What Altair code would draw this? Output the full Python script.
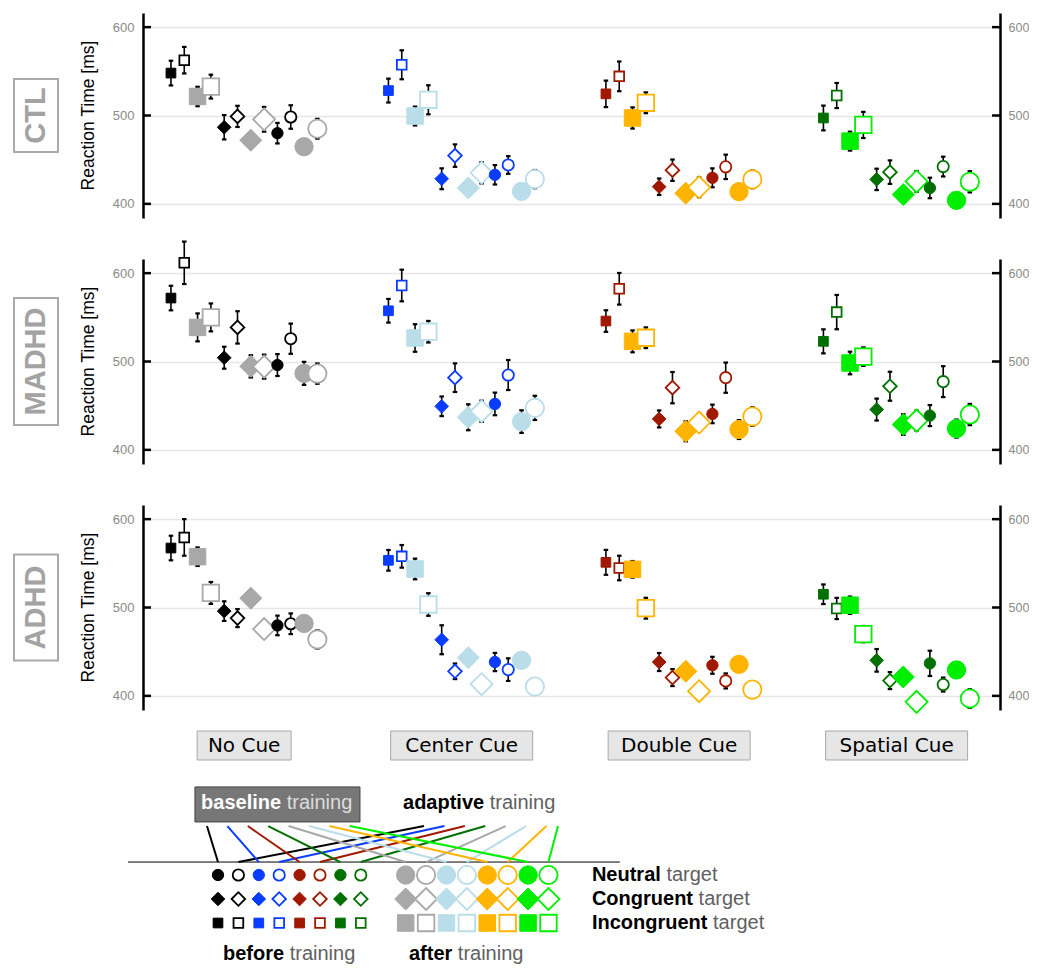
import altair as alt
import pandas as pd

# ---------------- data ----------------
GROUPS = ["CTL", "MADHD", "ADHD"]
CUES = ["No Cue", "Center Cue", "Double Cue", "Spatial Cue"]
TARGETS = ["Incongruent", "Congruent", "Neutral"]
# within each target: before/baseline, before/adaptive, after/baseline, after/adaptive
CONDITIONS = ["before-baseline", "before-adaptive", "after-baseline", "after-adaptive"]

# mean reaction time (ms); 12 values = 3 targets x 4 conditions
CTL_NO = [548, 562.6, 521.5, 532.7, 486.7, 499, 472, 495.7, 480, 498.3, 464.7, 485]
CTL_CENTER = [528.2, 557.4, 499.4, 517.8, 428.4, 454.6, 418, 435.1, 432.9, 444, 414.2, 428]
CTL_DOUBLE = [524.5, 544.3, 497.2, 514.4, 419.4, 438.1, 412, 418.7, 429.5, 441.9, 413.8, 427.7]
CTL_SPATIAL = [497.2, 522.6, 471, 489.3, 427.7, 435.9, 410.5, 425.4, 418, 442.2, 404, 425]
MADHD_NO = [571.8, 611.7, 538.6, 549.9, 504.3, 538.6, 494.5, 494.2, 496, 525.8, 486.6, 486.3]
MADHD_CENTER = [557.4, 586, 526.6, 533.7, 449.3, 481.7, 436.9, 443.7, 452, 484.7, 432, 447.5]
MADHD_DOUBLE = [545.8, 582.3, 522.8, 526.9, 435, 470.4, 421, 430.9, 440.7, 481.7, 423, 437.7]
MADHD_SPATIAL = [522.8, 555.9, 498.3, 505.5, 445.6, 472, 428.6, 433.1, 438.8, 477.2, 424.1, 440]
ADHD_NO = [567.3, 579.3, 557.5, 516.5, 495.9, 488, 510.5, 475.6, 479.7, 481.6, 482, 463.9]
ADHD_CENTER = [553.4, 557.9, 543.6, 503.4, 463.5, 427.8, 443.2, 413.2, 438.3, 429.7, 440.2, 410.5]
ADHD_DOUBLE = [551.1, 544.7, 543.2, 499.2, 438.3, 420.7, 427.8, 405.3, 434.6, 416.9, 435.7, 407.1]
ADHD_SPATIAL = [515, 498.9, 502.6, 469.9, 440.2, 417.3, 421.4, 393.2, 436.8, 412.8, 429.3, 397]

# error bar half-lengths (ms)
CTL_NO_ERR = [14, 15, 11, 13.5, 13.8, 12, 8, 14, 11.6, 13.3, 8, 11.2]
CTL_CENTER_ERR = [13.5, 16.4, 10.7, 16.4, 11.8, 12.7, 8, 12, 11, 10, 8, 10.3]
CTL_DOUBLE_ERR = [15, 16.8, 12, 11.8, 9.3, 12.1, 8, 11.2, 10.7, 13.8, 8, 10]
CTL_SPATIAL_ERR = [14, 14.2, 10.7, 14.8, 12.1, 13.3, 8, 11.6, 11.6, 11.2, 8, 12]
MADHD_NO_ERR = [13.9, 24, 15.8, 15.8, 12.4, 18.3, 12.6, 13.6, 12.4, 17.1, 13, 11.5]
MADHD_CENTER_ERR = [13.4, 17.9, 15.6, 12.2, 11.1, 16.2, 14.7, 12, 12.8, 17, 12.8, 13.7]
MADHD_DOUBLE_ERR = [12.2, 17.9, 12.4, 11.7, 9.6, 17.7, 11.3, 10, 10.5, 17.1, 10.7, 10.5]
MADHD_SPATIAL_ERR = [13.6, 19.4, 12.8, 10.5, 12.4, 16.4, 11.7, 11.3, 11.9, 17.5, 10.2, 12]
ADHD_NO_ERR = [13.9, 20.7, 10.5, 12.4, 11.1, 10.2, 8, 8, 11.1, 11.7, 8, 10.3]
ADHD_CENTER_ERR = [11.7, 12.8, 11.7, 12.8, 16.4, 8.8, 8, 8, 10.3, 12.8, 8, 9]
ADHD_DOUBLE_ERR = [14.1, 13.9, 9.4, 11.8, 10.2, 9.6, 8, 8, 9.6, 8.5, 8, 8]
ADHD_SPATIAL_ERR = [11.1, 12, 9.8, 9.2, 12.8, 9.6, 8, 8, 14.3, 7.9, 8, 10.5]

RT = {"CTL": [CTL_NO, CTL_CENTER, CTL_DOUBLE, CTL_SPATIAL],
      "MADHD": [MADHD_NO, MADHD_CENTER, MADHD_DOUBLE, MADHD_SPATIAL],
      "ADHD": [ADHD_NO, ADHD_CENTER, ADHD_DOUBLE, ADHD_SPATIAL]}
ERR = {"CTL": [CTL_NO_ERR, CTL_CENTER_ERR, CTL_DOUBLE_ERR, CTL_SPATIAL_ERR],
       "MADHD": [MADHD_NO_ERR, MADHD_CENTER_ERR, MADHD_DOUBLE_ERR, MADHD_SPATIAL_ERR],
       "ADHD": [ADHD_NO_ERR, ADHD_CENTER_ERR, ADHD_DOUBLE_ERR, ADHD_SPATIAL_ERR]}

Y_TICKS = [400, 500, 600]

# ---------------- style ----------------
BEFORE_COLORS = ["#000000", "#0a3cff", "#a01800", "#007000"]
AFTER_COLORS = ["#a8a8a8", "#b9dde9", "#ffb400", "#00ee00"]
SHAPE = {"Incongruent": "square", "Congruent": "diamond", "Neutral": "circle"}
SIZE_SMALL = {"square": 94, "diamond": 185, "circle": 128}
SIZE_BIG = {"square": 272, "diamond": 484, "circle": 335}
ROW_BOX_H = {"CTL": 73, "MADHD": 127, "ADHD": 106}
CUE_BOX_W = [94, 142, 142, 142]

W, H = 857, 205
PX = 13.31                  # pixels per slot
GROUP_STEP = 16.34          # slots between cue groups
XDOM = [-2.1, -2.1 + W / PX]
YDOM = [384, 616]
CAP = 0.17


def marker_style(cue_i, target, cond_i):
    before = cond_i < 2
    col = BEFORE_COLORS[cue_i] if before else AFTER_COLORS[cue_i]
    shp = SHAPE[target]
    size = (SIZE_SMALL if before else SIZE_BIG)[shp]
    filled = cond_i % 2 == 0
    return dict(shape=shp, size=size, fill=col if filled else "#ffffff",
                stroke=col, sw=1.0 if filled else 1.8)


rows = []
for g in GROUPS:
    for ci, cue in enumerate(CUES):
        for ti, tgt in enumerate(TARGETS):
            for k, cond in enumerate(CONDITIONS):
                i = ti * 4 + k
                pos = ci * GROUP_STEP + i
                v = RT[g][ci][i]
                e = ERR[g][ci][i]
                r = dict(group=g, cue=cue, target=tgt, cond=cond, pos=pos, rt=v,
                         lo=v - e, hi=v + e, capL=pos - CAP, capR=pos + CAP)
                r.update(marker_style(ci, tgt, k))
                rows.append(r)
df = pd.DataFrame(rows)

XS = alt.Scale(domain=XDOM, nice=False, zero=False)
YS = alt.Scale(domain=YDOM, nice=False, zero=False)


def panel(gname, with_cues):
    d = df[df.group == gname]
    base = alt.Chart(d)
    bars = base.mark_rule(color="black", strokeWidth=1.6).encode(
        x=alt.X("pos:Q", scale=XS, axis=None),
        y=alt.Y("lo:Q", scale=YS, axis=None), y2="hi:Q")
    cap_lo = base.mark_rule(color="black", strokeWidth=2.2).encode(
        x=alt.X("capL:Q", scale=XS, axis=None), x2="capR:Q",
        y=alt.Y("lo:Q", scale=YS, axis=None))
    cap_hi = base.mark_rule(color="black", strokeWidth=2.2).encode(
        x=alt.X("capL:Q", scale=XS, axis=None), x2="capR:Q",
        y=alt.Y("hi:Q", scale=YS, axis=None))
    left_axis = alt.Axis(orient="left", values=Y_TICKS, title=None, grid=True,
                         gridColor="#e6e6e6", gridWidth=1.5, domainColor="black",
                         domainWidth=2.5, ticks=False, labelColor="#8a8a8a",
                         labelFontSize=13, labelFont="Liberation Sans", labelPadding=9)
    pts = base.mark_point(filled=True, opacity=1).encode(
        x=alt.X("pos:Q", scale=XS, axis=None),
        y=alt.Y("rt:Q", scale=YS, axis=left_axis),
        shape=alt.Shape("shape:N", scale=None),
        size=alt.Size("size:Q", scale=None),
        fill=alt.Fill("fill:N", scale=None),
        stroke=alt.Stroke("stroke:N", scale=None),
        strokeWidth=alt.StrokeWidth("sw:Q", scale=None))
    tdf = pd.DataFrame({"v": Y_TICKS})
    right_axis = alt.Axis(orient="right", values=Y_TICKS, title=None, grid=False,
                          domainColor="black", domainWidth=2.5, ticks=False,
                          labelColor="#8a8a8a", labelFontSize=12.5,
                          labelFont="Liberation Sans", labelPadding=8)
    lt = alt.Chart(tdf).mark_rule(color="black", strokeWidth=2.5).encode(
        y=alt.Y("v:Q", scale=YS, axis=None), x=alt.value(0), x2=alt.value(8))
    rtk = alt.Chart(tdf).mark_rule(color="black", strokeWidth=2.5).encode(
        y=alt.Y("v:Q", scale=YS, axis=right_axis), x=alt.value(W - 8), x2=alt.value(W))
    ttl = alt.Chart(pd.DataFrame({"t": ["Reaction Time [ms]"]})).mark_text(
        angle=270, font="Liberation Sans", fontSize=17.5, color="black").encode(
        text="t:N", x=alt.value(-54), y=alt.value(H / 2))
    bh = ROW_BOX_H[gname]
    box = alt.Chart(pd.DataFrame({"t": [gname]})).mark_rect(
        fill="white", stroke="#aaaaaa", strokeWidth=2).encode(
        x=alt.value(-129), x2=alt.value(-85),
        y=alt.value(H / 2 - bh / 2), y2=alt.value(H / 2 + bh / 2))
    lab = alt.Chart(pd.DataFrame({"t": [gname]})).mark_text(
        angle=270, font="Liberation Sans", fontSize=29, fontWeight="bold",
        color="#a3a3a3").encode(text="t:N", x=alt.value(-107), y=alt.value(H / 2))
    layers = [bars, cap_lo, cap_hi, pts, lt, rtk, ttl, box, lab]
    if with_cues:
        cdf = pd.DataFrame({"cue": CUES})
        cdf["c"] = [i * GROUP_STEP + 5.5 for i in range(len(CUES))]
        cdf["l"] = [c - w / 2 / PX for c, w in zip(cdf["c"], CUE_BOX_W)]
        cdf["r"] = [c + w / 2 / PX for c, w in zip(cdf["c"], CUE_BOX_W)]
        cbox = alt.Chart(cdf).mark_rect(fill="#e6e6e6", stroke="#a8a8a8", strokeWidth=1).encode(
            x=alt.X("l:Q", scale=XS, axis=None), x2="r:Q",
            y=alt.value(226), y2=alt.value(255))
        ctext = alt.Chart(cdf).mark_text(font="DejaVu Sans", fontSize=20, color="black").encode(
            x=alt.X("c:Q", scale=XS, axis=None), y=alt.value(241), text="cue:N")
        layers += [cbox, ctext]
    return alt.layer(*layers).resolve_axis(y="independent").properties(width=W, height=H)


# ---------------- legend ----------------
UX, RY = 20.4, 24.0
LW, LH = W, 212
U0 = -3.676
R0 = -5.1667
US = alt.Scale(domain=[U0, U0 + LW / UX], nice=False, zero=False)
RS = alt.Scale(domain=[R0, R0 + LH / RY], nice=False, zero=False, reverse=True)

LEG_TARGETS = ["Neutral", "Congruent", "Incongruent"]
AFTER_OFFSET = 9.2
leg_rows = []
for ri, tgt in enumerate(LEG_TARGETS):
    for phase in range(2):
        for ci in range(4):
            for f in range(2):
                cond_i = phase * 2 + f
                st = marker_style(ci, tgt, cond_i)
                st.update(u=phase * AFTER_OFFSET + 2 * ci + f, r=ri)
                leg_rows.append(st)
ldf = pd.DataFrame(leg_rows)

LINE_COLORS = BEFORE_COLORS + AFTER_COLORS
BASE_TOPS = [-0.54 + i for i in range(8)]
ADAPT_TOPS = [10.1, 11.1, 12.1, 13.1, 14.1, 15.1, 16.1, 16.67]
FILLED_COLS = [0, 2, 4, 6, AFTER_OFFSET, AFTER_OFFSET + 2, AFTER_OFFSET + 4, AFTER_OFFSET + 6]
line_rows = []
for i in range(8):
    line_rows.append(dict(u1=BASE_TOPS[i], r1=-2.04, u2=FILLED_COLS[i], r2=-0.54, color=LINE_COLORS[i]))
    line_rows.append(dict(u1=ADAPT_TOPS[i], r1=-2.04, u2=FILLED_COLS[i] + 1, r2=-0.54, color=LINE_COLORS[i]))
lines_df = pd.DataFrame(line_rows)

BOLD_W = {'a': 556, 'b': 611, 'c': 556, 'd': 611, 'e': 556, 'f': 333, 'g': 611, 'i': 278,
          'l': 278, 'n': 611, 'o': 611, 'p': 611, 'r': 389, 's': 556, 't': 333, 'u': 611,
          'v': 556, 'C': 722, 'I': 278, 'N': 722, ' ': 278}
FS = 20


def bold_width(s):
    return sum(BOLD_W[ch] for ch in s) / 1000 * FS


LEG_TEXT = [("Neutral", "target", 18.33, 0, "#000000", "#606060"),
            ("Congruent", "target", 18.33, 1, "#000000", "#606060"),
            ("Incongruent", "target", 18.33, 2, "#000000", "#606060"),
            ("before", "training", 0.245, 3.3, "#000000", "#606060"),
            ("after", "training", 9.36, 3.3, "#000000", "#606060"),
            ("adaptive", "training", 9.07, -3.0, "#000000", "#606060"),
            ("baseline", "training", -0.83, -3.0, "#ffffff", "#dddddd")]
w1 = pd.DataFrame([dict(t=a, u=u, r=r, c=c1) for a, b, u, r, c1, c2 in LEG_TEXT])
w2 = pd.DataFrame([dict(t=b, u=u + (bold_width(a) + 0.278 * FS) / UX, r=r, c=c2)
                   for a, b, u, r, c1, c2 in LEG_TEXT])

lx = lambda f: alt.X(f, scale=US, axis=None)
ly = lambda f: alt.Y(f, scale=RS, axis=None)

bl_box = alt.Chart(pd.DataFrame({"u1": [-1.13], "u2": [6.96], "r1": [-3.67], "r2": [-2.21]})).mark_rect(
    fill="#777777", stroke="#444444", strokeWidth=1).encode(
    x=lx("u1:Q"), x2="u2:Q", y=ly("r1:Q"), y2="r2:Q")
hline = alt.Chart(pd.DataFrame({"u1": [-4.41], "u2": [19.7], "r": [-0.54]})).mark_rule(
    color="black", strokeWidth=1).encode(x=lx("u1:Q"), x2="u2:Q", y=ly("r:Q"))
links = alt.Chart(lines_df).mark_rule(strokeWidth=2).encode(
    x=lx("u1:Q"), y=ly("r1:Q"), x2="u2:Q", y2="r2:Q",
    color=alt.Color("color:N", scale=None))
lmarks = alt.Chart(ldf).mark_point(filled=True, opacity=1).encode(
    x=lx("u:Q"), y=ly("r:Q"),
    shape=alt.Shape("shape:N", scale=None),
    size=alt.Size("size:Q", scale=None),
    fill=alt.Fill("fill:N", scale=None),
    stroke=alt.Stroke("stroke:N", scale=None),
    strokeWidth=alt.StrokeWidth("sw:Q", scale=None))
t1 = alt.Chart(w1).mark_text(align="left", font="Liberation Sans", fontSize=FS, fontWeight="bold").encode(
    x=lx("u:Q"), y=ly("r:Q"), text="t:N", color=alt.Color("c:N", scale=None))
t2 = alt.Chart(w2).mark_text(align="left", font="Liberation Sans", fontSize=FS).encode(
    x=lx("u:Q"), y=ly("r:Q"), text="t:N", color=alt.Color("c:N", scale=None))
legend = alt.layer(bl_box, hline, links, lmarks, t1, t2).properties(width=LW, height=LH)

chart = alt.vconcat(panel("CTL", False), panel("MADHD", False), panel("ADHD", True), legend,
                    spacing=41, bounds="flush").properties(
    padding={"left": 5, "top": 5, "right": 0, "bottom": 0}
).configure_view(stroke=None)

chart.save("out.html", embed_options={"renderer": "svg", "actions": False})
